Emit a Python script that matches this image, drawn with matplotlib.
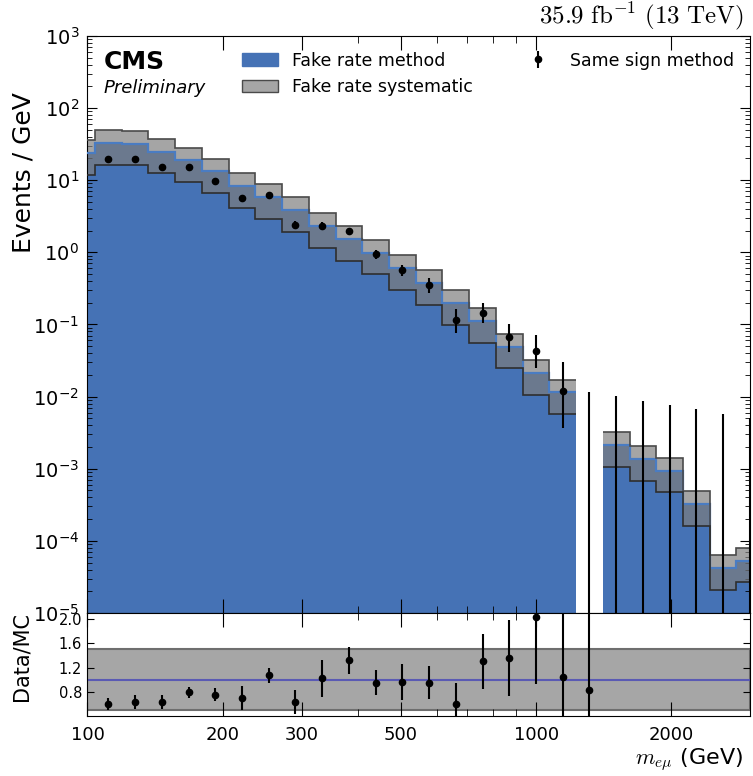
import matplotlib
matplotlib.use('Agg')
import matplotlib.pyplot as plt
import numpy as np
from matplotlib.patches import Patch

## Données

# binning logarithmique en m_emu (GeV)
edges = np.geomspace(90.6, 3207, 27)

# prediction "fake rate" (events / GeV), nan = bin vide
fake_rate = [23.7, 32.9, 32.2, 24.9, 18.9, 13.2, 8.34, 5.82, 3.84, 2.33,
             1.52, 0.99, 0.604, 0.374, 0.198, 0.112, 0.0494, 0.0212, 0.0114,
             np.nan, 0.00213, 0.00136, 0.000937, 0.000324, 4.2e-5, 5.3e-5]
syst_frac = 0.5

# "same sign" (bins 1 a 18)
same_sign = [19.7, 19.7, 15.4, 15.0, 9.79, 5.74, 6.20, 2.40, 2.35, 1.99,
             0.944, 0.572, 0.347, 0.1135, 0.146, 0.0668, 0.0432, 0.0119]
ss_err_lo = [0.8, 0.8, 0.7, 0.7, 0.6, 0.5, 0.5, 0.3, 0.3, 0.2,
             0.14, 0.1, 0.07, 0.037, 0.04, 0.025, 0.0184, 0.0082]
ss_err_hi = [0.8, 0.8, 0.7, 0.7, 0.6, 0.5, 0.5, 0.3, 0.3, 0.2,
             0.14, 0.1, 0.09, 0.05, 0.052, 0.035, 0.0286, 0.018]
# bins sans evenement : seulement l'erreur haute
empty_up = [0.0115, 0.0103, 0.0088, 0.0077, 0.0067, 0.0058, 0.0051]

# rapport Data/MC (bins 1 a 19)
ratio = [0.60, 0.63, 0.63, 0.79, 0.75, 0.70, 1.07, 0.635, 1.02, 1.32,
         0.95, 0.96, 0.95, 0.59, 1.30, 1.36, 2.03, 1.04, 0.83]
ratio_err = [0.1, 0.11, 0.12, 0.09, 0.11, 0.2, 0.13, 0.2, 0.3, 0.22,
             0.21, 0.29, 0.27, 0.35, 0.45, 0.63, 1.1, 1.6, 2.0]

xticks = [100, 200, 300, 500, 1000, 2000]
xminor = [400, 600, 700, 800, 900, 3000]

BLEU = '#4572b5'
GRIS = '#7d7d7d'


def main():
    fr = np.array(fake_rate)
    up = fr * (1 + syst_frac)
    lo = fr * (1 - syst_frac)
    centres = np.sqrt(edges[:-1] * edges[1:])

    fig = plt.figure(figsize=(7.53, 7.76), dpi=100)
    ax = fig.add_axes([0.1162, 0.2101, 0.880, 0.7436])
    ax2 = fig.add_axes([0.1162, 0.0773, 0.880, 0.1328], sharex=ax)

    ax.set_xscale('log')
    ax.set_yscale('log')

    ax.stairs(fr, edges, baseline=1e-7, fill=True, color=BLEU, lw=0, zorder=1)
    ax.stairs(up, edges, baseline=lo, fill=True, color=GRIS, alpha=0.69, lw=0, zorder=2)
    ax.stairs(fr, edges, baseline=None, color='#4a7cc2', lw=1.6, zorder=3)
    ax.stairs(up, edges, baseline=None, color='#4a4a4a', lw=1.2, zorder=3)
    ax.stairs(lo, edges, baseline=None, color='#2e2e2e', lw=1.2, zorder=3)

    eb = ax.errorbar(centres[1:19], same_sign, yerr=[ss_err_lo, ss_err_hi],
                     fmt='o', color='k', ms=4.5, elinewidth=1.5, capsize=0, zorder=5)
    ax.vlines(centres[19:], 1e-7, empty_up, color='k', lw=1.5, zorder=5)

    ax.set_xlim(100, 3000)
    ax.set_ylim(1e-5, 1e3)
    ax.set_ylabel('Events / GeV', fontsize=18, ha='right')
    ax.yaxis.set_label_coords(-0.078, 0.903)

    ax.text(0.024, 0.975, 'CMS', transform=ax.transAxes, fontsize=18,
            fontweight='bold', va='top', ha='left')
    ax.text(0.024, 0.925, 'Preliminary', transform=ax.transAxes, fontsize=13,
            style='italic', va='top', ha='left')
    ax.text(0.99, 1.006, r'$35.9\ \mathrm{fb}^{-1}\ (13\ \mathrm{TeV})$',
            transform=ax.transAxes, ha='right', va='bottom', fontsize=18,
            math_fontfamily='cm')

    handles = [Patch(facecolor=BLEU, edgecolor=BLEU),
               Patch(facecolor='#a6a6a6', edgecolor='#4a4a4a'),
               eb]
    labels = ['Fake rate method', 'Fake rate systematic', 'Same sign method']
    ax.legend(handles, labels, loc='upper right', ncol=2, frameon=False,
              fontsize=12.5, handlelength=2.1, columnspacing=2.7)

    # panneau du rapport
    ax2.axhspan(0.5, 1.5, facecolor='#a6a6a6', edgecolor='#6e6e6e', lw=1.5)
    ax2.axhline(1.0, color='#5a5ab4', lw=1.5)
    ax2.errorbar(centres[1:20], ratio, yerr=ratio_err, fmt='o', color='k',
                 ms=4.5, elinewidth=1.5, capsize=0, zorder=5)
    ax2.set_ylim(0.4, 2.1)
    ax2.set_yticks([0.8, 1.2, 1.6, 2.0])
    ax2.set_ylabel('Data/MC', fontsize=15)
    ax2.yaxis.set_label_coords(-0.085, 0.58)

    ax2.set_xticks(xticks, labels=[str(t) for t in xticks])
    ax2.set_xticks(xminor, minor=True)
    ax2.xaxis.set_minor_formatter(matplotlib.ticker.NullFormatter())
    ax2.set_xlim(100, 3000)
    ax2.set_xlabel(r'$m_{e\mu}$ (GeV)', fontsize=16, ha='right', x=0.99,
                   math_fontfamily='cm', labelpad=2)

    for a in (ax, ax2):
        a.tick_params(which='both', direction='in', top=True, right=True)
        a.tick_params(axis='x', which='major', length=10)
        a.tick_params(axis='x', which='minor', length=5)
    ax.tick_params(axis='y', which='major', length=7, labelsize=14, pad=6)
    ax.tick_params(axis='y', which='minor', length=3.5)
    ax.tick_params(axis='x', labelbottom=False)
    ax2.tick_params(axis='y', which='major', length=5, labelsize=10.5, pad=4)
    ax2.tick_params(axis='x', labelsize=13, pad=7)

    fig.savefig('out.png', dpi=100)


if __name__ == '__main__':
    main()
